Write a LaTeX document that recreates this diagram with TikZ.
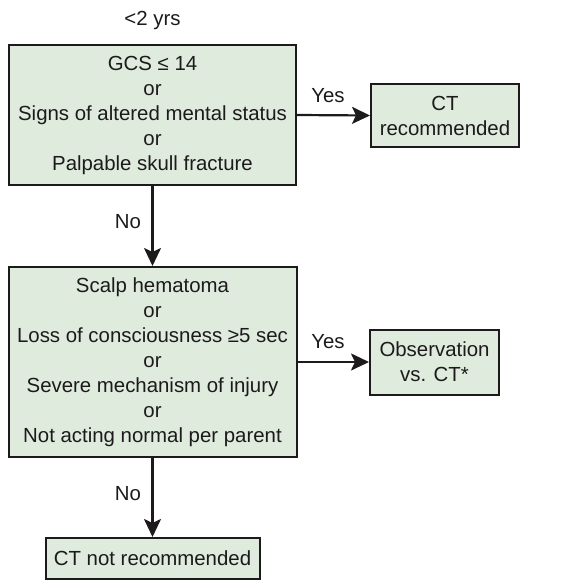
\documentclass[tikz,border=0pt]{standalone}
\usepackage{fontspec}
\setmainfont{Liberation Sans}
\usetikzlibrary{arrows.meta}

\definecolor{boxfill}{RGB}{223,235,221}
\definecolor{ink}{RGB}{28,26,27}

\begin{document}
\begin{tikzpicture}[x=1pt, y=-1pt, line join=miter,
  every node/.style={font=\fontsize{20.4}{25}\selectfont, text=ink},
  crit/.style={draw=ink, fill=boxfill, line width=2pt, align=center, inner sep=0pt},
  arr/.style={draw=ink, line width=2.2pt, -{Stealth[length=18pt, width=17pt, inset=4pt]}}]

\useasboundingbox (0,0) rectangle (572,586);

\node (age) at (152.5, 20) {<2 yrs};

\node (q1) at (152.5, 115) [crit, minimum width=287pt, minimum height=140pt]
  {GCS ≤ 14\\or\\Signs of altered mental status\\or\\Palpable skull fracture};
\node (ct) at (445, 115.5) [crit, minimum width=148pt, minimum height=63pt]
  {CT\\recommended};

\node (q2) at (152.5, 362) [crit, minimum width=288pt, minimum height=190pt]
  {Scalp hematoma\\or\\Loss of consciousness ≥5 sec\\or\\Severe mechanism of injury\\or\\Not acting normal per parent};
\node (obs) at (434.5, 362) [crit, minimum width=129pt, minimum height=65pt]
  {Observation\\vs. CT*};

\node (noct) at (152.5, 558.5) [crit, minimum width=214pt, minimum height=41pt]
  {CT not recommended};

\draw[arr] (q1.east) -- (ct.west);
\draw[arr] (q1.south) -- (q2.north);
\draw[arr] (q2.east) -- (obs.west);
\draw[arr] (q2.south) -- (noct.north);

\node (yes1) at (328, 96) {Yes};
\node (no1) at (128, 222) {No};
\node (yes2) at (328, 342) {Yes};
\node (no2) at (128, 494) {No};

\end{tikzpicture}
\end{document}
